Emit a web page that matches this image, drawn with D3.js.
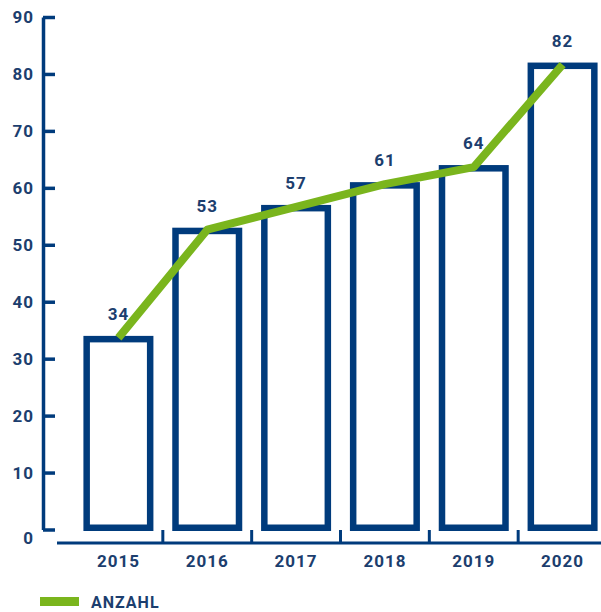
<!DOCTYPE html>
<html>
<head>
<meta charset="utf-8">
<script src="https://cdn.jsdelivr.net/npm/d3@7"></script>
<style>
  body { margin: 0; background: #fff; }
  text { font-family: Roboto, "DejaVu Sans", sans-serif; font-weight: bold; fill: #1c3e6e; letter-spacing: 1px; }
</style>
</head>
<body>
<div id="chart"></div>
<script>
// DATA
var years = ["2015", "2016", "2017", "2018", "2019", "2020"]
var anzahl = [34, 53, 57, 61, 64, 82]
var yTicks = [0, 10, 20, 30, 40, 50, 60, 70, 80, 90]
var legendLabel = "ANZAHL"

var svgWidth = 601
var svgHeight = 612

var navy = "#003b7c"
var green = "#7ab51d"

var svg = d3.select("#chart").append("svg")
    .attr("width", svgWidth)
    .attr("height", svgHeight)

var yScale = d3.scaleLinear().domain([0, 90]).range([529.5, 17])
var xScale = d3.scaleBand().domain(years).range([74, 607]).paddingInner(0).paddingOuter(0)

// y axis, ticks point to the right
var yAxis = d3.axisLeft(yScale)
    .tickValues(yTicks)
    .tickSizeInner(-12)
    .tickSizeOuter(0)
    .tickPadding(9)

var yG = svg.append("g")
    .attr("transform", "translate(43,0)")
    .call(yAxis)

yG.select(".domain").attr("stroke", navy).attr("stroke-width", 3.5)
yG.selectAll(".tick line").attr("stroke", navy).attr("stroke-width", 3.5)
yG.selectAll(".tick text")
    .attr("font-size", "17px")
    .attr("font-family", null)
    .attr("fill", null)
// the zero label sits a bit lower in the original
yG.selectAll(".tick text").filter(d => d === 0).attr("dy", "0.85em")

// x axis
var baseY = 543
svg.append("line")
    .attr("x1", 57).attr("x2", svgWidth)
    .attr("y1", baseY).attr("y2", baseY)
    .attr("stroke", navy).attr("stroke-width", 3)

svg.selectAll("line.sep")
    .data(years.slice(1))
    .enter()
    .append("line")
    .attr("class", "sep")
    .attr("x1", d => xScale(d)).attr("x2", d => xScale(d))
    .attr("y1", baseY).attr("y2", baseY - 13)
    .attr("stroke", navy).attr("stroke-width", 3)

var xAxis = d3.axisBottom(xScale).tickSize(0).tickPadding(0)
var xG = svg.append("g")
    .attr("transform", `translate(0,${baseY + 12})`)
    .call(xAxis)
xG.select(".domain").remove()
xG.selectAll(".tick text")
    .attr("font-size", "17px")
    .attr("font-family", null)
    .attr("fill", null)

// bars (outlined)
var barW = 70
var sw = 6.5
svg.selectAll("rect.bar")
    .data(anzahl)
    .enter()
    .append("rect")
    .attr("class", "bar")
    .attr("x", (d, i) => xScale(years[i]) + xScale.bandwidth() / 2 - barW / 2 + sw / 2)
    .attr("y", d => yScale(d) + sw / 2)
    .attr("width", barW - sw)
    .attr("height", d => yScale(0) + 1.5 - yScale(d) - sw)
    .attr("fill", "none")
    .attr("stroke", navy)
    .attr("stroke-width", sw)

// line
var line = d3.line()
    .x((d, i) => xScale(years[i]) + xScale.bandwidth() / 2)
    .y(d => yScale(d) + 2)

svg.append("path")
    .datum(anzahl)
    .attr("d", line)
    .attr("fill", "none")
    .attr("stroke", green)
    .attr("stroke-width", 8)
    .attr("stroke-linejoin", "round")

// value labels
svg.selectAll("text.val")
    .data(anzahl)
    .enter()
    .append("text")
    .attr("class", "val")
    .attr("x", (d, i) => xScale(years[i]) + xScale.bandwidth() / 2)
    .attr("y", d => yScale(d) - 16)
    .attr("text-anchor", "middle")
    .attr("font-size", "17px")
    .text(d => d)

// legend
svg.append("rect")
    .attr("x", 40).attr("y", 597)
    .attr("width", 39).attr("height", 9)
    .attr("fill", green)

svg.append("text")
    .attr("x", 91).attr("y", 608)
    .attr("font-size", "16px")
    .text(legendLabel)
</script>
</body>
</html>
